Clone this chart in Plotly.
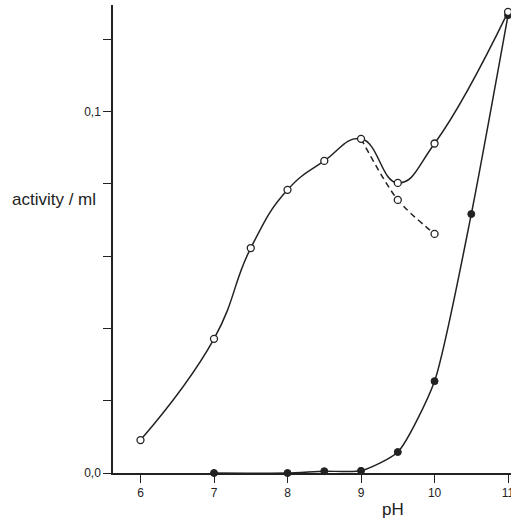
import plotly.graph_objects as go

# open circles, main (solid) curve
open_ph = [6, 7, 7.5, 8, 8.5, 9, 9.5, 10, 11]
open_act = [0.0091, 0.0371, 0.0622, 0.0783, 0.0863, 0.0924, 0.0802, 0.0911, 0.1275]

# open circles, dashed branch
dash_ph = [9, 9.5, 10]
dash_act = [0.0924, 0.0755, 0.0661]

# filled circles
filled_ph = [7, 8, 8.5, 9, 9.5, 10, 10.5, 11]
filled_act = [0.0, 0.0, 0.0005, 0.0006, 0.0058, 0.0254, 0.0716, 0.1266]

y_tickvals = [0, 0.02, 0.04, 0.06, 0.08, 0.10, 0.12]
y_ticktext = ["0,0", "", "", "", "", "0,1", ""]
x_tickvals = [6, 7, 8, 9, 10, 11]
x_ticktext = ["6", "7", "8", "9", "10", "11"]

ink = "#222222"
font = "Liberation Sans, Arial, sans-serif"

# figure is wider than the 511 px window so the "11" label is cut at the edge
W, H = 530, 519
ML, MR, MT, MB = 113, 19, 5, 46
PW, PH = W - ML - MR, H - MT - MB

def px_to_paper(px, py):
    return (px - ML) / PW, (H - MB - py) / PH

fig = go.Figure()

fig.add_trace(go.Scatter(
    x=dash_ph, y=dash_act, mode="lines",
    line=dict(color=ink, width=1.5, dash="6px,4px", shape="spline", smoothing=0.8),
    cliponaxis=False, showlegend=False, hoverinfo="skip"))

fig.add_trace(go.Scatter(
    x=filled_ph, y=filled_act, mode="lines+markers",
    line=dict(color=ink, width=1.5, shape="spline", smoothing=0.6),
    marker=dict(size=7, color=ink, line=dict(color=ink, width=1)),
    cliponaxis=False, showlegend=False))

fig.add_trace(go.Scatter(
    x=open_ph, y=open_act, mode="lines+markers",
    line=dict(color=ink, width=1.5, shape="spline", smoothing=1.3),
    marker=dict(size=7, color="white", line=dict(color=ink, width=1.3)),
    cliponaxis=False, showlegend=False))

fig.add_trace(go.Scatter(
    x=dash_ph[1:], y=dash_act[1:], mode="markers",
    marker=dict(size=7, color="white", line=dict(color=ink, width=1.3)),
    cliponaxis=False, showlegend=False))

ax_common = dict(showline=True, linecolor=ink, linewidth=1.5, ticks="outside",
                 ticklen=8, tickwidth=1.3, tickcolor=ink, showgrid=False, zeroline=False,
                 ticklabeloverflow="allow", automargin=False,
                 tickfont=dict(size=12, family=font, color=ink))

fig.update_layout(
    width=W, height=H,
    margin=dict(l=ML, r=MR, t=MT, b=MB),
    paper_bgcolor="white", plot_bgcolor="white",
    font=dict(family=font, color=ink),
    xaxis=dict(range=[5.626, 11.04], tickvals=x_tickvals, ticktext=x_ticktext, **ax_common),
    yaxis=dict(range=[0, 0.1294], tickvals=y_tickvals, ticktext=y_ticktext, **ax_common),
)

ax_x, ax_y = px_to_paper(54, 199)
ph_x, ph_y = px_to_paper(393, 509)
fig.update_layout(annotations=[
    dict(text="activity / ml", x=ax_x, y=ax_y, xref="paper", yref="paper",
         xanchor="center", yanchor="middle", showarrow=False,
         font=dict(size=17, family=font, color=ink)),
    dict(text="pH", x=ph_x, y=ph_y, xref="paper", yref="paper",
         xanchor="center", yanchor="middle", showarrow=False,
         font=dict(size=17, family=font, color=ink)),
])

fig.write_html("out.html", config={"displayModeBar": False},
               post_script="document.body.style.margin='0';document.body.style.overflow='hidden';")
